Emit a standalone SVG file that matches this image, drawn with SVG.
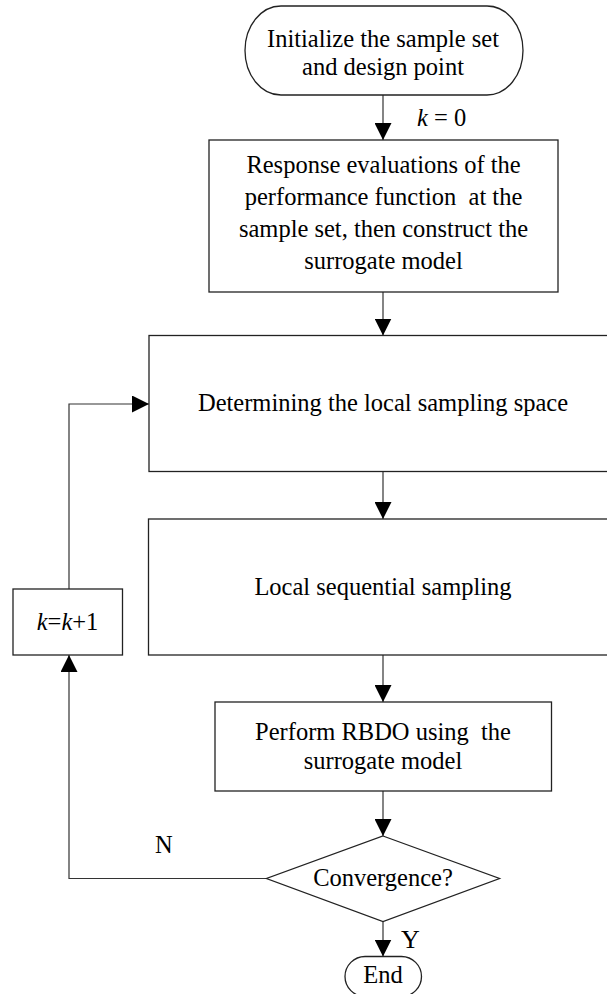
<svg xmlns="http://www.w3.org/2000/svg" width="607" height="994" viewBox="0 0 607 994">
  <defs>
    <marker id="arrow" viewBox="0 0 17 17" refX="17" refY="8.5" markerWidth="17" markerHeight="17" markerUnits="userSpaceOnUse" orient="auto">
      <path d="M0,0 L17,8.5 L0,17 Z" fill="#000"/>
    </marker>
    <style>
      .shape { fill: #fff; stroke: #222; stroke-width: 1.3; }
      .edge { fill: none; stroke: #333; stroke-width: 1.2; marker-end: url(#arrow); }
      .line { fill: none; stroke: #333; stroke-width: 1.2; }
      text { font-family: "Liberation Serif", "Times New Roman", serif; font-size: 24.5px; fill: #000; white-space: pre; }
      .c { text-anchor: middle; }
      .it { font-style: italic; }
    </style>
  </defs>
  <rect width="607" height="994" fill="#fff"/>

  <!-- connectors -->
  <g id="connectors">
    <line class="edge" x1="383" y1="95" x2="383" y2="140"/>
    <line class="edge" x1="383" y1="292" x2="383" y2="335.5"/>
    <line class="edge" x1="383" y1="471.5" x2="383" y2="519"/>
    <line class="edge" x1="383" y1="655" x2="383" y2="702"/>
    <line class="edge" x1="383" y1="791" x2="383" y2="836"/>
    <line class="edge" x1="383" y1="921.5" x2="383" y2="956.5"/>
    <!-- loop back: N branch to k=k+1, then to the sampling space step -->
    <polyline class="edge" points="267,878.5 69,878.5 69,655"/>
    <polyline class="edge" points="69,589 69,404 149,404"/>
    <text x="417" y="126"><tspan class="it">k</tspan> = 0</text>
    <text x="155" y="852.5">N</text>
    <text x="401" y="947.5" style="font-size:26px">Y</text>
  </g>

  <g id="start">
    <rect class="shape" x="245" y="6" width="278" height="89" rx="36" ry="44.5"/>
    <text class="c" x="383" y="46.5">Initialize the sample set</text>
    <text class="c" x="383" y="75">and design point</text>
  </g>

  <g id="surrogate">
    <rect class="shape" x="209" y="140" width="349" height="152"/>
    <text class="c" x="383.5" y="173">Response evaluations of the</text>
    <text class="c" x="383.5" y="205">performance function  at the</text>
    <text class="c" x="383.5" y="237">sample set, then construct the</text>
    <text class="c" x="383.5" y="269">surrogate model</text>
  </g>

  <g id="sampling-space">
    <rect class="shape" x="149" y="335.5" width="471" height="136"/>
    <text class="c" x="383" y="411">Determining the local sampling space</text>
  </g>

  <g id="sequential-sampling">
    <rect class="shape" x="148.5" y="519" width="471.5" height="136"/>
    <text class="c" x="383" y="595">Local sequential sampling</text>
  </g>

  <g id="rbdo">
    <rect class="shape" x="215" y="702" width="336.5" height="89"/>
    <text class="c" x="383" y="740">Perform RBDO using  the</text>
    <text class="c" x="383" y="768.5">surrogate model</text>
  </g>

  <g id="convergence">
    <polygon class="shape" points="383,836 499.5,878.5 383,921.5 266.5,878.5"/>
    <text class="c" x="383" y="885.5">Convergence?</text>
  </g>

  <g id="increment">
    <rect class="shape" x="13" y="589" width="109.5" height="66"/>
    <text class="c" x="67.5" y="630"><tspan class="it">k</tspan>=<tspan class="it">k</tspan>+1</text>
  </g>

  <g id="end">
    <rect class="shape" x="345" y="956.5" width="76.5" height="40" rx="20" ry="20"/>
    <text class="c" x="383" y="983">End</text>
  </g>
</svg>
